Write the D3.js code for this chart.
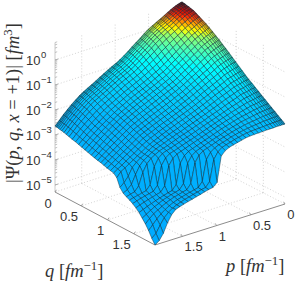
<!DOCTYPE html>
<html><head><meta charset="utf-8">
<script src="https://d3js.org/d3.v7.min.js"></script>
<style>html,body{margin:0;padding:0;background:#fff}svg{display:block}</style>
</head><body><div id="c"></div>
<script>
const momentumGrid=[0,.011,.027,.046,.068,.097,.131,.171,.217,.268,.328,.389,.449,.510,.570,.630,.691,.751,.812,.872,.932,.993,1.053,1.114,1.174,1.234,1.295,1.355,1.416,1.476,1.536,1.597,1.657,1.718,1.778,1.839,1.9];
const momentumTicks=[0,.5,1,1.5];
const momentumLabels=["0","0.5","1","1.5"];
const decadeTicks=[-5,-4,-3,-2,-1,0];
const minorFactors=[2,3,4,5,6,7,8,9];
// log10 |Psi| x 100; rows: q index, columns: p index
const logPsi100=[
[68,68,67,66,64,61,57,52,45,37,28,20,11,2,-10,-23,-35,-47,-60,-72,-83,-92,-100,-109,-118,-127,-137,-146,-155,-164,-174,-187,-200,-215,-230,-247,-264],
[68,68,67,66,64,61,57,52,45,37,28,20,11,2,-10,-23,-35,-47,-60,-72,-83,-92,-100,-109,-118,-127,-137,-146,-155,-164,-174,-187,-200,-215,-230,-247,-264],
[67,67,66,65,63,60,56,51,44,36,27,19,10,1,-11,-24,-36,-48,-61,-73,-84,-93,-101,-110,-119,-128,-138,-147,-156,-165,-175,-188,-201,-216,-231,-248,-265],
[67,67,66,65,63,60,56,51,44,36,27,19,10,1,-11,-24,-36,-48,-61,-73,-84,-93,-101,-110,-119,-128,-138,-147,-156,-165,-175,-188,-201,-216,-231,-248,-265],
[66,66,65,64,62,59,55,50,43,35,26,18,9,0,-12,-25,-37,-49,-62,-74,-85,-94,-102,-111,-120,-129,-139,-148,-157,-166,-176,-189,-202,-217,-232,-249,-266],
[64,64,63,62,60,57,53,48,41,33,24,16,6,-3,-15,-28,-40,-52,-64,-76,-87,-96,-104,-113,-122,-131,-141,-150,-159,-168,-178,-191,-204,-219,-234,-251,-268],
[63,63,62,60,58,55,51,46,39,30,21,13,4,-6,-17,-30,-42,-54,-67,-79,-90,-99,-107,-115,-124,-133,-143,-152,-161,-170,-180,-193,-206,-221,-236,-252,-269],
[60,60,59,58,56,53,49,43,36,27,18,10,0,-10,-21,-34,-46,-58,-70,-82,-93,-102,-110,-118,-127,-136,-146,-155,-164,-173,-183,-196,-209,-223,-238,-255,-271],
[58,58,57,55,53,50,46,40,33,24,15,6,-4,-14,-25,-38,-50,-62,-74,-86,-96,-105,-113,-121,-130,-139,-149,-158,-167,-176,-186,-199,-212,-226,-241,-257,-274],
[52,52,51,49,47,43,39,33,26,17,8,-2,-12,-23,-34,-47,-58,-70,-81,-92,-102,-111,-119,-127,-135,-144,-154,-163,-172,-181,-192,-204,-217,-231,-245,-261,-277],
[45,45,44,42,39,36,31,25,19,9,-1,-11,-22,-33,-44,-57,-68,-79,-89,-100,-109,-117,-125,-133,-142,-151,-160,-169,-178,-188,-198,-211,-223,-236,-250,-265,-281],
[37,37,36,34,32,28,23,17,11,1,-9,-21,-32,-44,-55,-67,-78,-88,-98,-107,-116,-124,-132,-140,-148,-157,-166,-175,-184,-195,-205,-217,-229,-242,-255,-270,-284],
[30,30,29,27,24,20,15,9,3,-7,-18,-30,-42,-54,-65,-77,-88,-97,-106,-115,-123,-131,-139,-146,-154,-163,-172,-181,-190,-201,-212,-224,-235,-247,-260,-274,-288],
[21,21,20,18,15,11,7,1,-5,-16,-27,-38,-50,-62,-73,-84,-95,-103,-112,-121,-129,-137,-144,-152,-159,-168,-177,-186,-195,-206,-217,-228,-239,-252,-265,-278,-292],
[12,12,11,9,6,3,-2,-8,-14,-24,-35,-47,-58,-69,-80,-91,-102,-110,-118,-127,-134,-142,-150,-157,-165,-173,-182,-190,-199,-210,-221,-232,-244,-256,-269,-282,-296],
[2,2,1,-1,-3,-6,-11,-16,-22,-33,-44,-55,-66,-76,-87,-98,-108,-116,-124,-132,-139,-147,-155,-162,-170,-178,-186,-195,-203,-214,-225,-236,-248,-260,-273,-287,-300],
[-7,-7,-8,-10,-12,-15,-19,-24,-30,-41,-52,-63,-74,-84,-95,-105,-115,-122,-130,-138,-145,-153,-160,-168,-175,-183,-191,-200,-208,-219,-230,-241,-252,-265,-278,-291,-304],
[-18,-18,-19,-20,-22,-25,-29,-34,-40,-50,-60,-71,-82,-91,-102,-112,-121,-129,-136,-144,-151,-159,-166,-174,-181,-188,-196,-205,-213,-224,-235,-246,-257,-270,-282,-295,-308],
[-28,-28,-29,-31,-32,-35,-39,-43,-49,-59,-69,-79,-89,-98,-108,-118,-127,-135,-142,-150,-157,-165,-172,-179,-186,-194,-202,-210,-218,-229,-240,-251,-262,-274,-286,-298,-311],
[-39,-39,-40,-41,-43,-46,-49,-53,-59,-68,-78,-87,-96,-106,-115,-124,-134,-141,-149,-157,-164,-171,-178,-185,-192,-200,-207,-215,-223,-234,-245,-256,-267,-279,-291,-302,-314],
[-50,-50,-51,-52,-53,-56,-59,-63,-68,-77,-86,-95,-104,-113,-122,-131,-140,-148,-155,-163,-170,-177,-184,-191,-198,-205,-213,-220,-228,-239,-250,-261,-272,-283,-295,-306,-318],
[-61,-61,-62,-63,-64,-67,-70,-73,-78,-86,-95,-103,-112,-121,-129,-138,-146,-154,-161,-169,-176,-182,-189,-196,-203,-210,-218,-225,-233,-244,-255,-266,-277,-287,-299,-310,-322],
[-72,-72,-73,-74,-75,-77,-80,-84,-88,-96,-104,-112,-120,-128,-136,-145,-153,-160,-167,-174,-181,-188,-195,-201,-208,-215,-223,-230,-238,-249,-260,-270,-281,-292,-303,-314,-325],
[-83,-83,-84,-84,-85,-88,-91,-94,-97,-105,-112,-120,-127,-136,-143,-151,-159,-166,-173,-180,-186,-193,-200,-206,-213,-220,-228,-235,-243,-253,-264,-275,-285,-296,-307,-317,-328],
[-94,-94,-95,-95,-96,-98,-101,-104,-107,-114,-121,-128,-135,-143,-150,-158,-165,-172,-179,-185,-192,-198,-205,-211,-218,-225,-233,-240,-248,-258,-269,-279,-290,-300,-311,-321,-340],
[-104,-104,-105,-105,-106,-108,-110,-113,-116,-122,-129,-136,-142,-150,-157,-164,-171,-178,-184,-190,-197,-203,-210,-216,-222,-229,-237,-243,-251,-260,-271,-281,-292,-308,-338,-358,-372],
[-113,-113,-114,-114,-115,-117,-120,-122,-125,-131,-137,-143,-150,-157,-163,-170,-177,-183,-190,-196,-202,-208,-215,-220,-227,-233,-240,-246,-253,-262,-272,-283,-300,-330,-364,-380,-388],
[-123,-123,-124,-124,-125,-127,-129,-131,-133,-139,-145,-151,-157,-164,-170,-176,-182,-189,-195,-201,-207,-213,-219,-224,-231,-237,-244,-249,-255,-264,-274,-290,-320,-368,-387,-391,-396],
[-132,-132,-133,-133,-134,-136,-138,-140,-142,-147,-153,-158,-164,-170,-176,-182,-188,-194,-200,-206,-212,-218,-224,-229,-235,-241,-247,-252,-258,-272,-300,-368,-386,-390,-394,-398,-402],
[-142,-142,-142,-143,-143,-145,-147,-149,-151,-155,-160,-165,-170,-176,-181,-187,-193,-199,-205,-211,-217,-223,-229,-234,-240,-246,-252,-257,-269,-294,-368,-387,-391,-395,-399,-404,-410],
[-151,-151,-151,-152,-152,-154,-156,-157,-159,-163,-167,-172,-176,-182,-186,-192,-197,-203,-209,-215,-221,-227,-233,-239,-245,-251,-257,-269,-294,-369,-389,-393,-398,-403,-408,-414,-420],
[-161,-161,-161,-161,-162,-163,-164,-166,-168,-171,-175,-178,-182,-187,-192,-197,-202,-208,-214,-220,-226,-232,-238,-244,-250,-262,-287,-367,-386,-390,-395,-400,-406,-412,-418,-425,-432],
[-170,-170,-170,-171,-171,-172,-173,-174,-176,-179,-182,-185,-188,-193,-197,-202,-207,-213,-218,-224,-230,-236,-242,-249,-261,-286,-362,-382,-386,-391,-396,-402,-410,-418,-427,-438,-448],
[-179,-179,-179,-180,-180,-181,-182,-183,-184,-187,-189,-191,-194,-198,-201,-206,-211,-216,-221,-227,-233,-239,-245,-257,-282,-360,-380,-384,-389,-393,-399,-406,-415,-424,-434,-448,-464],
[-189,-189,-189,-190,-190,-190,-191,-192,-192,-194,-196,-198,-200,-203,-206,-210,-214,-220,-225,-230,-237,-249,-273,-356,-375,-379,-383,-387,-392,-397,-403,-411,-421,-433,-448,-466,-484],
[-198,-198,-198,-199,-199,-199,-199,-200,-201,-202,-203,-204,-205,-207,-210,-214,-218,-223,-228,-233,-246,-271,-354,-373,-376,-381,-385,-390,-394,-400,-406,-414,-425,-442,-466,-494,-508],
[-208,-208,-208,-208,-208,-208,-208,-209,-209,-209,-210,-210,-211,-212,-214,-218,-222,-226,-231,-239,-256,-356,-371,-374,-378,-383,-387,-392,-396,-401,-406,-412,-428,-456,-492,-516,-528]
];
const W=298,H=286;
const zMin=-5.28,zMax=0.7;
const svg=d3.select("#c").append("svg").attr("width",W).attr("height",H);
const frac=d3.scaleLinear().domain([0,1.9]).range([0,1]);
const zPix=d3.scaleLinear().domain([zMin,zMax]).range([0,149.5]);
function proj(p,q,z){
  const a=frac(p),b=frac(q);
  return [182-127*a+103*b-3*a*b, 151+41*a+53*b-zPix(z)];
}
const colour=d3.scaleLinear()
 .domain([-5.3,-2.2,-1.3,-0.72,-0.3,-0.02,0.14,0.3,0.45,0.58,0.68])
 .range(["#00aaff","#00b4ff","#00d4ff","#00ffff","#50ffb0","#90ff70","#ffff00","#ffa000","#ff2800","#d00000","#800000"])
 .interpolate(d3.interpolateRgb);
const gridCol="#c8c8c8",gridDash="1 2";
function seg(g,a,b,col,w,dash){
  const l=g.append("line").attr("x1",a[0]).attr("y1",a[1]).attr("x2",b[0]).attr("y2",b[1])
    .attr("stroke",col).attr("stroke-width",w);
  if(dash)l.attr("stroke-dasharray",dash);
}
const gGrid=svg.append("g");
const pMax=1.9,qMax=1.9;
decadeTicks.forEach(z=>{
  seg(gGrid,proj(pMax,0,z),proj(0,0,z),gridCol,.8,gridDash);
  seg(gGrid,proj(0,0,z),proj(0,qMax,z),gridCol,.8,gridDash);
});
momentumTicks.forEach(v=>{
  seg(gGrid,proj(v,0,zMin),proj(v,0,zMax),gridCol,.8,gridDash);
  seg(gGrid,proj(0,v,zMin),proj(0,v,zMax),gridCol,.8,gridDash);
  seg(gGrid,proj(v,0,zMin),proj(v,qMax,zMin),gridCol,.8,gridDash);
  seg(gGrid,proj(0,v,zMin),proj(pMax,v,zMin),gridCol,.8,gridDash);
});
const axisCol="#8c8c8c";
const gAxis=svg.append("g");
seg(gAxis,proj(pMax,0,zMin),proj(pMax,0,zMax),"#bdbdbd",.8);
seg(gAxis,proj(pMax,0,zMin),proj(pMax,qMax,zMin),axisCol,1);
seg(gAxis,proj(pMax,qMax,zMin),proj(0,qMax,zMin),axisCol,1);
decadeTicks.forEach(z=>{
  const a=proj(pMax,0,z);
  seg(gAxis,a,[a[0]+3.2,a[1]-1],"#999",.8);
  if(z<0)minorFactors.forEach(f=>{
    const m=proj(pMax,0,z+Math.log10(f));
    seg(gAxis,m,[m[0]+2.2,m[1]-.7],"#aaa",.7);
  });
});
minorFactors.forEach(f=>{
  const z=Math.log10(f);
  if(z<zMax){const m=proj(pMax,0,z);seg(gAxis,m,[m[0]+2.2,m[1]-.7],"#aaa",.7);}
});
momentumTicks.forEach(v=>{
  const a=proj(pMax,v,zMin),b=proj(v,qMax,zMin);
  seg(gAxis,a,[a[0]+1.4,a[1]-2.2],"#888",.8);
  seg(gAxis,b,[b[0]-1.4,b[1]-2.2],"#888",.8);
});
// surface, painted from the back corner forward
const gSurf=svg.append("g");
const n=momentumGrid.length-1;
for(let j=0;j<n;j++){
  for(let i=0;i<n;i++){
    const z00=logPsi100[j][i]/100,z10=logPsi100[j][i+1]/100,z11=logPsi100[j+1][i+1]/100,z01=logPsi100[j+1][i]/100;
    const c=[proj(momentumGrid[i],momentumGrid[j],z00),proj(momentumGrid[i+1],momentumGrid[j],z10),
             proj(momentumGrid[i+1],momentumGrid[j+1],z11),proj(momentumGrid[i],momentumGrid[j+1],z01)];
    const path=d3.path();
    path.moveTo(c[0][0],c[0][1]);path.lineTo(c[1][0],c[1][1]);path.lineTo(c[2][0],c[2][1]);path.lineTo(c[3][0],c[3][1]);path.closePath();
    gSurf.append("path").attr("d",path.toString())
      .attr("fill",colour((z00+z10+z11+z01)/4))
      .attr("stroke","#06202e").attr("stroke-width",.46).attr("stroke-linejoin","round");
  }
}
const sans="'Liberation Sans',Arial,sans-serif",serif="'Liberation Serif','DejaVu Serif',serif";
const txtCol="#333";
const gText=svg.append("g").attr("font-family",sans).attr("font-size",13).attr("fill",txtCol);
decadeTicks.forEach(z=>{
  const y=proj(pMax,0,z)[1];
  const t=gText.append("text").attr("x",26).attr("y",y+4.5);
  t.append("tspan").text("10");
  t.append("tspan").attr("dy",-6.5).attr("dx",.5).attr("font-size",9.5).text(z===0?"0":"\u2212"+(-z));
});
momentumTicks.forEach((v,k)=>{
  const a=proj(pMax,v,zMin);
  gText.append("text").attr("x",a[0]-3.3).attr("y",a[1]+15.5).attr("text-anchor","end").text(momentumLabels[k]);
  const b=proj(v,qMax,zMin);
  gText.append("text").attr("x",b[0]+2.2).attr("y",b[1]+15).attr("text-anchor","start").text(momentumLabels[k]);
});
function mathLabel(g,parts,size){
  const t=g.append("text").attr("font-family",serif).attr("font-size",size).attr("fill",txtCol);
  parts.forEach(p=>{
    const s=t.append("tspan").text(p.t);
    if(p.i)s.attr("font-style","italic");
    if(p.sup){s.attr("font-size",size*.7).attr("dy",-size*.38);}
    if(p.down){s.attr("dy",size*.38);}
  });
  return t;
}
const yTitle=[{t:"|\u03A8(",i:0},{t:"p",i:1},{t:", ",i:0},{t:"q",i:1},{t:", ",i:0},{t:"x",i:1},{t:" = +1)| [",i:0},{t:"fm",i:1},{t:"3",sup:1},{t:"]",down:1}];
mathLabel(svg.append("g").attr("transform","translate(19,183) rotate(-90)"),yTitle,18.5);
const qTitle=[{t:"q",i:1},{t:" [",i:0},{t:"fm",i:1},{t:"\u22121",sup:1},{t:"]",down:1}];
const pTitle=[{t:"p",i:1},{t:" [",i:0},{t:"fm",i:1},{t:"\u22121",sup:1},{t:"]",down:1}];
mathLabel(svg.append("g").attr("transform","translate(45,277)"),qTitle,18.5);
mathLabel(svg.append("g").attr("transform","translate(226,272)"),pTitle,18.5);
</script></body></html>
